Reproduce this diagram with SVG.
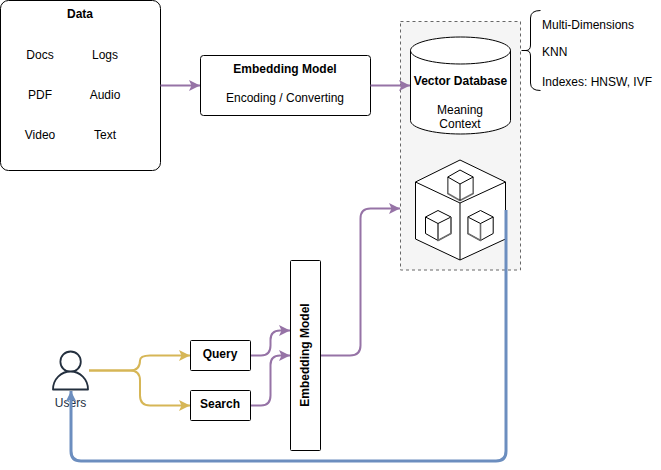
<svg xmlns="http://www.w3.org/2000/svg" width="661" height="470" viewBox="0 0 661 470">
<style>
text{font-family:"Liberation Sans",Arial,sans-serif;font-size:12px;fill:#000;text-anchor:middle}
.b{font-weight:bold}
.l{text-anchor:start}
.n{fill:#fff;stroke:#000;stroke-width:1}
.ln{fill:none;stroke:#000;stroke-width:1;stroke-linejoin:round}
.g{fill:none;stroke:#6e6e6e;stroke-width:1.6;stroke-linejoin:round}
.c{fill:none;stroke-width:2}
.p{stroke:#9673a6;marker-end:url(#ap)}
.y{stroke:#d6b656;marker-end:url(#ay)}
.bl{stroke:#6c8ebf;stroke-width:3;marker-end:url(#ab)}
</style>
<defs>
<marker id="ap" markerUnits="userSpaceOnUse" markerWidth="12" markerHeight="12" refX="11" refY="6" orient="auto"><path d="M0,0.5 L11,6 L0,11.5 L2.5,6 Z" fill="#9673a6"/></marker>
<marker id="ay" markerUnits="userSpaceOnUse" markerWidth="12" markerHeight="12" refX="11" refY="6" orient="auto"><path d="M0,0.5 L11,6 L0,11.5 L2.5,6 Z" fill="#d6b656"/></marker>
<marker id="ab" markerUnits="userSpaceOnUse" markerWidth="12" markerHeight="12" refX="11" refY="6" orient="auto"><path d="M0,0.5 L11,6 L0,11.5 L2.5,6 Z" fill="#6c8ebf"/></marker>
</defs>
<g id="container"><rect x="400.5" y="21.5" width="120" height="248.5" fill="#f5f5f5" stroke="#666" stroke-dasharray="3 3"/></g>
<g id="data">
<rect class="n" x="0.5" y="0.5" width="160" height="170" rx="8"/>
<text class="b" x="80" y="18">Data</text>
<text x="40" y="59">Docs</text><text x="105" y="59">Logs</text>
<text x="40" y="99">PDF</text><text x="105" y="99">Audio</text>
<text x="40" y="139">Video</text><text x="105" y="139">Text</text>
</g>
<g id="embedding-top">
<rect class="n" x="200.5" y="55.5" width="170" height="60" rx="3"/>
<text class="b" x="285" y="73">Embedding Model</text>
<text x="285" y="102">Encoding / Converting</text>
</g>
<g id="vector-db">
<path class="n" d="M410.5,50.5 C410.5,43 433,37 460.5,37 C488,37 510.5,43 510.5,50.5 V120.5 C510.5,128 488,134 460.5,134 C433,134 410.5,128 410.5,120.5 Z"/>
<path class="ln" d="M410.5,50.5 C410.5,58 433,64 460.5,64 C488,64 510.5,58 510.5,50.5"/>
<text class="b" x="460.5" y="85">Vector Database</text>
<text x="460" y="114">Meaning</text><text x="460" y="128">Context</text>
</g>
<g id="brace">
<path class="ln" d="M521.5,50.5 H526 Q530.5,50.5 530.5,45 V18 Q530.5,10.5 540.5,10.5 M526,50.5 Q530.5,50.5 530.5,56 V83 Q530.5,90.5 540.5,90.5"/>
<text class="l" x="542" y="29">Multi-Dimensions</text>
<text class="l" x="542" y="56">KNN</text>
<text class="l" x="542" y="86">Indexes: HNSW, IVF</text>
</g>
<g id="cube">
<path class="n" stroke-linejoin="round" d="M460,160 L505.5,182 V239 L460,260 L415.5,239 V182 Z"/>
<path class="ln" d="M415.5,182 L460,203 L505.5,182 M460,203 V260"/>
<path class="g" d="M447.8,177 V193.5 L460,200.5 L473.2,193.5 V177"/>
<path class="ln" d="M447.8,177 L460,170 L473.2,177 L460,184 Z M460,184 V200.5"/>
<path class="ln" d="M425.5,217 L438,210.5 L451,217 V233.5 L438,240.5 L425.5,233.5 Z M425.5,217 L438,223.5 L451,217 M438,223.5 V240.5"/>
<path class="g" d="M451,217 V233.5 L438,240.5 V224"/>
<path class="ln" d="M467.8,217 L480.5,210.5 L493.2,217 V233.5 L480.5,240.5 L467.8,233.5 Z M467.8,217 L480.5,223.5 L493.2,217 M480.5,223.5 V240.5"/>
<path class="g" d="M467.8,217 V233.5 L480.5,240.5 V224"/>
</g>
<g id="users">
<circle cx="70.6" cy="361.7" r="10.2" fill="#fff" stroke="#232f3e" stroke-width="1.8"/>
<path d="M53,389.5 C53,379 61,371.5 70.6,371.5 C80,371.5 88,379 88,389.5 Z" fill="#fff" stroke="#232f3e" stroke-width="1.8" stroke-linejoin="round"/>
<text x="70.5" y="407" style="fill:#232f3e">Users</text>
</g>
<g id="query"><rect class="n" x="190.5" y="340.5" width="60" height="30" rx="1"/><text class="b" x="220" y="358">Query</text></g>
<g id="search"><rect class="n" x="190.5" y="390.5" width="60" height="30" rx="1"/><text class="b" x="220" y="408">Search</text></g>
<g id="embedding-side"><rect class="n" x="290.5" y="260.5" width="30" height="190" rx="1"/><text class="b" transform="translate(308.5,355) rotate(-90)" x="0" y="0">Embedding Model</text></g>
<g id="connectors">
<path class="c p" d="M160.5,85.5 H200"/>
<path class="c p" d="M370.5,85.5 H410"/>
<path class="c y" d="M89,370.5 H130 Q140,370.5 140,360.5 Q140,355.5 150,355.5 H190"/>
<path class="c y" d="M89,370.5 H130 Q140,370.5 140,380.5 V395.5 Q140,405.5 150,405.5 H190"/>
<path class="c p" d="M251,355.5 H261 Q270.5,355.5 270.5,345.5 V340 Q270.5,330.5 280,330.5 H290"/>
<path class="c p" d="M251,405.5 H261 Q270.5,405.5 270.5,395.5 V365 Q270.5,355.5 280,355.5 H290"/>
<path class="c p" d="M321,355.5 H350 Q360.5,355.5 360.5,345.5 V218.5 Q360.5,208.5 370.5,208.5 H400"/>
<path class="c bl" d="M506,210 V451 Q506,461 496,461 H81 Q71,461 71,451 V391"/>
</g>
</svg>
